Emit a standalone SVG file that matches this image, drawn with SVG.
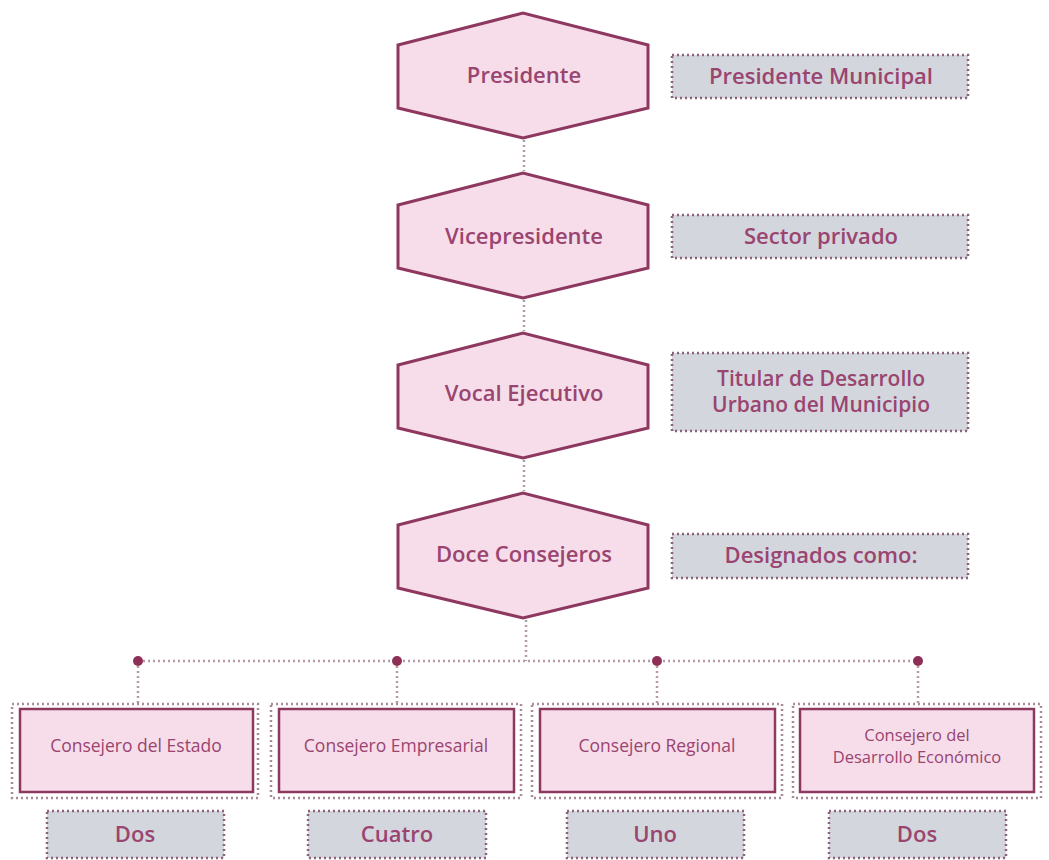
<svg xmlns="http://www.w3.org/2000/svg" width="1049" height="860" viewBox="0 0 1049 860">
<style>
.hex{fill:#f6dde9;stroke:#8e3860;stroke-width:3;stroke-linejoin:miter}
.side{fill:#d3d6dd;stroke:#8c6278;stroke-width:2.5;stroke-dasharray:2 3}
.in{fill:#f6dde9;stroke:#8e3860;stroke-width:2.5}
.out{fill:none;stroke:#a88a98;stroke-width:2.5;stroke-dasharray:2 3}
.cnt{fill:#d3d6dd;stroke:#8c6278;stroke-width:2.5;stroke-dasharray:2 3}
.con{fill:none;stroke:#b79aa8;stroke-width:2.5;stroke-dasharray:2 3}
.dot{fill:#8e2f57}
text{font-family:"Open Sans","Noto Sans","Liberation Sans",sans-serif;fill:#9a4470;text-anchor:middle}
.t1{font-size:22px;font-weight:600}
.t2{font-size:22px;font-weight:600}
.t2b{font-size:21px;font-weight:600}
.t3{font-size:17.5px}
.t3b{font-size:16.5px}
.t4{font-size:22px;font-weight:600}
</style>
<rect width="1049" height="860" fill="#ffffff"/>
<g id="connectors">
<line class="con" x1="524" y1="140" x2="524" y2="171"/>
<line class="con" x1="524" y1="300" x2="524" y2="331"/>
<line class="con" x1="524" y1="460" x2="524" y2="491"/>
<line class="con" x1="526" y1="620" x2="526" y2="661"/>
<line class="con" x1="138" y1="661" x2="918" y2="661"/>
<line class="con" x1="138" y1="661" x2="138" y2="703"/>
<line class="con" x1="397" y1="661" x2="397" y2="703"/>
<line class="con" x1="657" y1="661" x2="657" y2="703"/>
<line class="con" x1="918" y1="661" x2="918" y2="703"/>
<circle class="dot" cx="138" cy="661" r="5"/>
<circle class="dot" cx="397" cy="661" r="5"/>
<circle class="dot" cx="657" cy="661" r="5"/>
<circle class="dot" cx="918" cy="661" r="5"/>
</g>
<g id="presidente">
<polygon class="hex" points="398,45 523,13 648,45 648,108 523,138 398,108"/>
<text class="t1" x="524" y="83">Presidente</text>
</g>
<g id="presidente-municipal">
<rect class="side" x="672" y="55" width="296" height="43"/>
<text class="t2" x="821" y="84">Presidente Municipal</text>
</g>
<g id="vicepresidente">
<polygon class="hex" points="398,205 523,173 648,205 648,268 523,298 398,268"/>
<text class="t1" x="524" y="244">Vicepresidente</text>
</g>
<g id="sector-privado">
<rect class="side" x="672" y="215" width="296" height="43"/>
<text class="t2" x="821" y="244">Sector privado</text>
</g>
<g id="vocal-ejecutivo">
<polygon class="hex" points="398,365 523,333 648,365 648,428 523,458 398,428"/>
<text class="t1" x="524" y="401">Vocal Ejecutivo</text>
</g>
<g id="titular">
<rect class="side" x="672" y="353" width="296" height="78"/>
<text class="t2b" x="821" y="386">Titular de Desarrollo</text>
<text class="t2b" x="821" y="412">Urbano del Municipio</text>
</g>
<g id="doce-consejeros">
<polygon class="hex" points="398,525 523,493 648,525 648,588 523,618 398,588"/>
<text class="t1" x="524" y="562">Doce Consejeros</text>
</g>
<g id="designados">
<rect class="side" x="672" y="534" width="296" height="44"/>
<text class="t2" x="821" y="563">Designados como:</text>
</g>
<g id="consejero-estado">
<rect class="out" x="12" y="704" width="246" height="94"/>
<rect class="in" x="20" y="709" width="233" height="83"/>
<text class="t3" x="136" y="752">Consejero del Estado</text>
</g>
<g id="dos-1">
<rect class="cnt" x="47" y="811" width="177" height="47"/>
<text class="t4" x="135" y="842">Dos</text>
</g>
<g id="consejero-empresarial">
<rect class="out" x="271" y="704" width="250" height="94"/>
<rect class="in" x="279" y="709" width="235" height="83"/>
<text class="t3" x="396" y="752">Consejero Empresarial</text>
</g>
<g id="cuatro">
<rect class="cnt" x="308" y="811" width="178" height="47"/>
<text class="t4" x="397" y="842">Cuatro</text>
</g>
<g id="consejero-regional">
<rect class="out" x="532" y="704" width="250" height="94"/>
<rect class="in" x="540" y="709" width="235" height="83"/>
<text class="t3" x="657" y="752">Consejero Regional</text>
</g>
<g id="uno">
<rect class="cnt" x="567" y="811" width="177" height="47"/>
<text class="t4" x="655" y="842">Uno</text>
</g>
<g id="consejero-desarrollo">
<rect class="out" x="793" y="704" width="248" height="94"/>
<rect class="in" x="800" y="709" width="234" height="83"/>
<text class="t3b" x="917" y="741">Consejero del</text>
<text class="t3b" x="917" y="763">Desarrollo Económico</text>
</g>
<g id="dos-2">
<rect class="cnt" x="829" y="811" width="177" height="47"/>
<text class="t4" x="917" y="842">Dos</text>
</g>
</svg>
